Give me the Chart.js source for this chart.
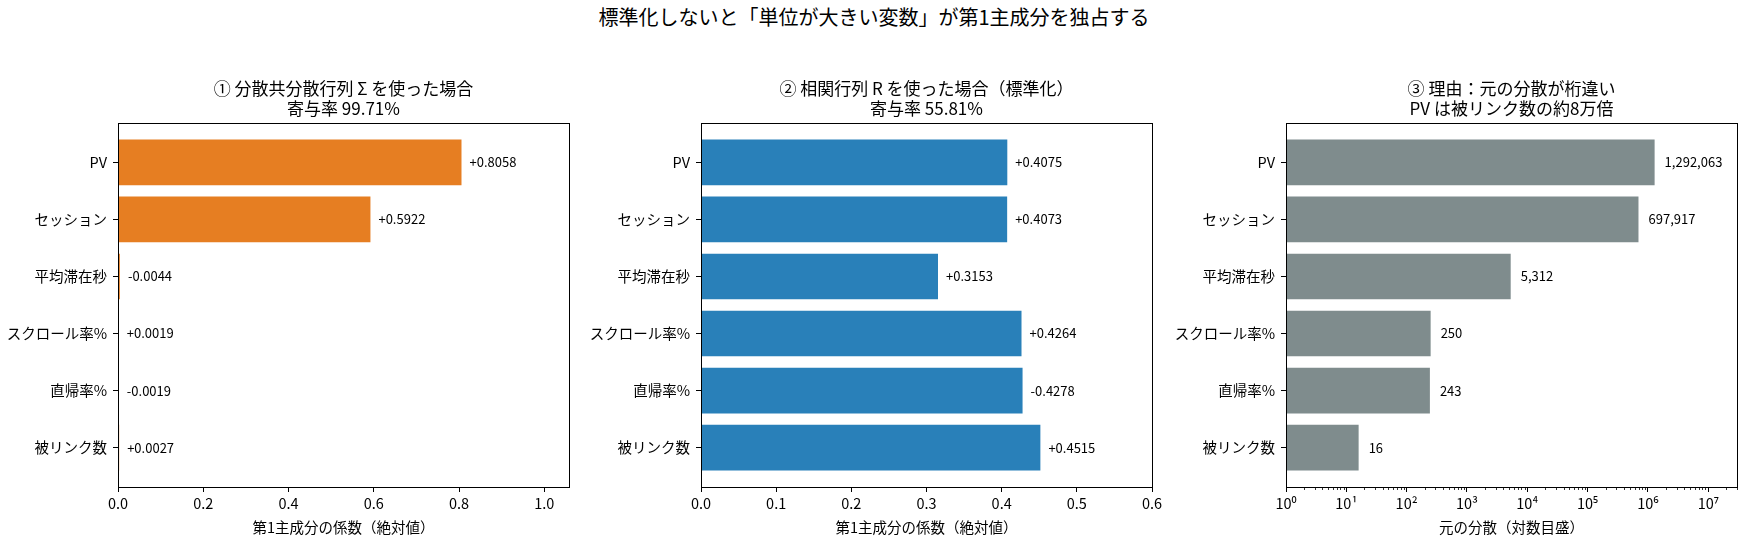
<!DOCTYPE html>
<html>
<head>
<meta charset="utf-8">
<script src="https://cdn.jsdelivr.net/npm/chart.js@4.4.1/dist/chart.umd.min.js"></script>
<style>
body{margin:0;width:1748px;height:549px;overflow:hidden;background:#fff;position:relative;font-family:"Noto Sans CJK JP";}
.panel{position:absolute;top:0;}
#suptitle{position:absolute;left:0;top:5px;width:1748px;text-align:center;font-size:20px;line-height:24px;color:#000;}
</style>
</head>
<body>
<div id="suptitle">標準化しないと「単位が大きい変数」が第1主成分を独占する</div>
<canvas id="panel_cov" class="panel"></canvas>
<canvas id="panel_corr" class="panel"></canvas>
<canvas id="panel_var" class="panel"></canvas>
<script>
// variables, top to bottom
const categories   = ["PV", "セッション", "平均滞在秒", "スクロール率%", "直帰率%", "被リンク数"];
// PC1 loadings (signed)
const covLoadings  = [0.8058, 0.5922, -0.0044, 0.0019, -0.0019, 0.0027];
const corrLoadings = [0.4075, 0.4073, 0.3153, 0.4264, -0.4278, 0.4515];
// original variances
const rawVariances = [1292063, 697917, 5312, 250, 243, 16];

const covTicks  = [0, 0.2, 0.4, 0.6, 0.8, 1.0];
const corrTicks = [0, 0.1, 0.2, 0.3, 0.4, 0.5, 0.6];
const logTicks  = [1, 10, 100, 1000, 10000, 100000, 1000000, 10000000];

const titles = [
    ["① 分散共分散行列 Σ を使った場合", "寄与率 99.71%"],
    ["② 相関行列 R を使った場合（標準化）", "寄与率 55.81%"],
    ["③ 理由：元の分散が桁違い", "PV は被リンク数の約8万倍"]
];

const FONT = '"Noto Sans CJK JP", "Noto Sans", sans-serif';
Chart.defaults.font.family = FONT;
Chart.defaults.color = "#000";

const SUP = {"0":"⁰","1":"¹","2":"²","3":"³","4":"⁴","5":"⁵","6":"⁶","7":"⁷","8":"⁸","9":"⁹"};

function signed(v){
    return (v >= 0 ? "+" : "") + v.toFixed(4);
}

function make_panel(canvas_id, left, values, texts, color, xscale, title_lines, gap){
    const canvas = document.getElementById(canvas_id);
    canvas.width  = 117 + 451 + 20;
    canvas.height = 549;
    canvas.style.left = left + "px";

    const value_labels = {
        id: "valueLabels",
        afterDatasetsDraw(chart){
            const ctx  = chart.ctx;
            const meta = chart.getDatasetMeta(0);
            ctx.save();
            ctx.font = "13px " + FONT;
            ctx.fillStyle = "#000";
            ctx.textBaseline = "middle";
            ctx.textAlign = "left";
            meta.data.forEach((bar, i) => {
                ctx.fillText(texts[i], bar.x + gap, bar.y);
            });
            ctx.restore();
        }
    };

    const frame = {
        id: "frame",
        afterDraw(chart){
            const a   = chart.chartArea;
            const ctx = chart.ctx;
            ctx.save();
            ctx.strokeStyle = "#000";
            ctx.lineWidth = 1;
            ctx.strokeRect(Math.round(a.left) + 0.5, Math.round(a.top) + 0.5,
                           Math.round(a.right - a.left), Math.round(a.bottom - a.top));
            // titles above the axes
            ctx.fillStyle = "#000";
            ctx.font = "17px " + FONT;
            ctx.textAlign = "center";
            ctx.textBaseline = "middle";
            const cx = (a.left + a.right) / 2;
            ctx.fillText(title_lines[0], cx, a.top - 34);
            ctx.fillText(title_lines[1], cx, a.top - 14);
            // minor ticks on log axis
            if (xscale.type === "logarithmic"){
                const s = chart.scales.x;
                ctx.beginPath();
                for (let d = 1; d <= 1e7; d *= 10){
                    for (let k = 2; k <= 9; k++){
                        const v = k * d;
                        if (v > xscale.max) break;
                        const px = Math.round(s.getPixelForValue(v)) + 0.5;
                        ctx.moveTo(px, a.bottom);
                        ctx.lineTo(px, a.bottom + 3);
                    }
                }
                ctx.lineWidth = 0.8;
                ctx.stroke();
            }
            ctx.restore();
        }
    };

    new Chart(canvas.getContext("2d"), {
        type: "bar",
        data: {
            datasets: [{
                data: values.map((v, i) => ({x: Math.abs(v), y: i})),
                backgroundColor: color,
                borderWidth: 0,
                categoryPercentage: 1.0,
                barPercentage: 0.8
            }]
        },
        options: {
            indexAxis: "y",
            responsive: false,
            animation: false,
            devicePixelRatio: 1,
            layout: {padding: {left: 0, right: 20, top: 123, bottom: 0}},
            scales: {
                y: {
                    type: "linear",
                    reverse: true,
                    offset: false,
                    bounds: "data",
                    min: -0.69,
                    max: 5.69,
                    afterBuildTicks: s => { s.ticks = categories.map((c, i) => ({value: i})); },
                    afterFit: s => { s.width = 117; },
                    ticks: {
                        autoSkip: false,
                        padding: 6,
                        color: "#000",
                        font: {size: 14.5},
                        callback: v => categories[v]
                    },
                    grid: {drawOnChartArea: false, offset: false, tickLength: 5, color: "#000"},
                    border: {color: "#000", width: 1}
                },
                x: Object.assign({
                    offset: false,
                    afterFit: s => { s.height = 62; },
                    grid: {drawOnChartArea: false, offset: false, tickLength: 5, color: "#000"},
                    border: {color: "#000", width: 1}
                }, xscale)
            },
            plugins: {
                legend: {display: false},
                tooltip: {enabled: false}
            }
        },
        plugins: [value_labels, frame]
    });
}

make_panel("panel_cov", 0.5, covLoadings, covLoadings.map(signed), "#e67e22", {
    type: "linear", min: 0, max: 1.058,
    afterBuildTicks: s => { s.ticks = covTicks.map(v => ({value: v})); },
    ticks: {autoSkip: false, padding: 3, font: {size: 14.5}, color: "#000", callback: v => v.toFixed(1)},
    title: {display: true, text: "第1主成分の係数（絶対値）", font: {size: 14.5}, color: "#000", padding: {top: 0, bottom: 13}}
}, titles[0], 8);

make_panel("panel_corr", 584, corrLoadings, corrLoadings.map(signed), "#2980b9", {
    type: "linear", min: 0, max: 0.6,
    afterBuildTicks: s => { s.ticks = corrTicks.map(v => ({value: v})); },
    ticks: {autoSkip: false, padding: 3, font: {size: 14.5}, color: "#000", callback: v => v.toFixed(1)},
    title: {display: true, text: "第1主成分の係数（絶対値）", font: {size: 14.5}, color: "#000", padding: {top: 0, bottom: 13}}
}, titles[1], 8);

make_panel("panel_var", 1169, rawVariances, rawVariances.map(v => v.toLocaleString("en-US")), "#7f8c8d", {
    type: "logarithmic", min: 1, max: 3.0e7,
    afterBuildTicks: s => { s.ticks = logTicks.map(v => ({value: v})); },
    ticks: {autoSkip: false, padding: 3, font: {size: 14.5}, color: "#000",
        callback: v => "10" + String(Math.round(Math.log10(v))).split("").map(c => SUP[c]).join("")},
    title: {display: true, text: "元の分散（対数目盛）", font: {size: 14.5}, color: "#000", padding: {top: 0, bottom: 13}}
}, titles[2], 10);
</script>
</body>
</html>
